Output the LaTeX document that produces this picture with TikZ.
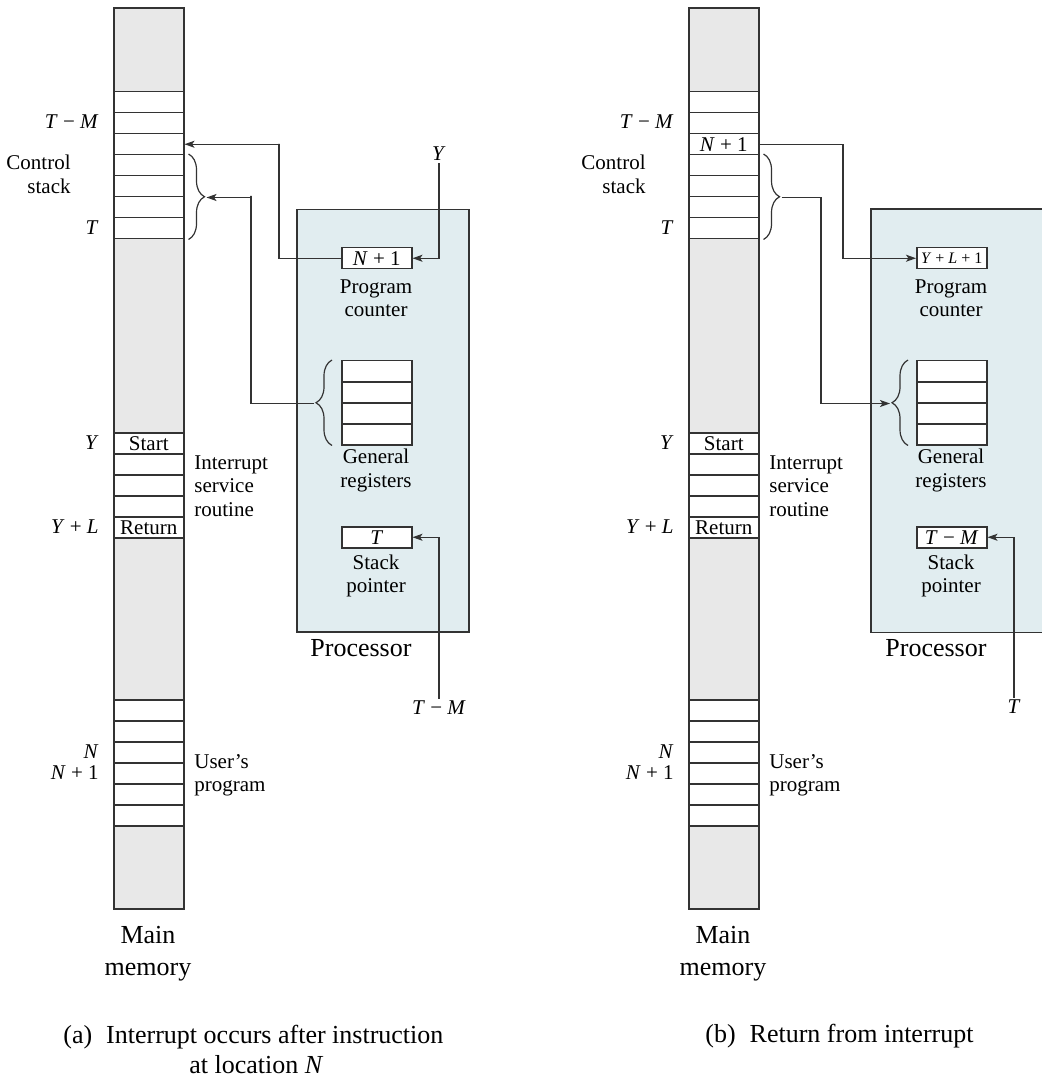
\documentclass[tikz,border=0pt]{standalone}
\usepackage{fontspec}
\setmainfont{Liberation Serif}
\usetikzlibrary{arrows.meta,decorations.pathreplacing}
\definecolor{lc}{RGB}{51,51,51}
\definecolor{memgray}{RGB}{232,232,232}
\definecolor{procblue}{RGB}{225,237,240}
\newcommand\lblfont{\fontsize{10.5pt}{11.7pt}\selectfont}
\newcommand\bigfont{\fontsize{13pt}{16pt}\selectfont}
\newcommand\smallfont{\fontsize{8pt}{9pt}\selectfont}
\newcommand\vv[1]{\textit{#1}}
\begin{document}
\begin{tikzpicture}[x=0.5pt,y=-0.5pt,
  mem/.style={draw=lc, fill=memgray, line width=0.9pt, minimum width=35pt, minimum height=450.5pt, inner sep=0pt, anchor=north west},
  cell/.style={draw=lc, fill=white, line width=0.75pt, minimum width=35pt, minimum height=10.5pt, inner sep=0pt, anchor=north west, font=\lblfont},
  proc/.style={fill=procblue, draw=lc, line width=0.75pt, minimum width=86pt, minimum height=211pt, inner sep=0pt, anchor=north west},
  lbl/.style={font=\lblfont, inner sep=1pt},
  big/.style={font=\bigfont, align=center, inner sep=0pt},
  arr/.style={draw=lc, line width=0.6pt, -{Stealth[length=5pt,width=3.5pt,inset=1.2pt]}},
  conn/.style={draw=lc, line width=0.6pt},
  brc/.style={draw=lc, line width=0.6pt, decorate, decoration={brace, amplitude=8pt}},
]
\useasboundingbox (0,0) rectangle (1041,1079);

% ================= (a) =================
\node[proc] (procA) at (296,209) {};
\node[mem] (memA) at (113,7) {};
\foreach \i in {1,...,7} \node[cell] (csA\i) at (113,{91+21*(\i-1)}) {};
\foreach \i/\t in {1/Start,2/{},3/{},4/{},5/Return} \node[cell] (isA\i) at (113,{432+21*(\i-1)}) {\t};
\foreach \i in {1,...,6} \node[cell] (upA\i) at (113,{699+21*(\i-1)}) {};

\node[lbl, anchor=east] (tmlA) at (101,122) {\vv{T} − \vv{M}};
\node[lbl, anchor=east, align=right] (ctlA) at (73,174.5) {Control\\stack};
\node[lbl, anchor=east] (tlA) at (101,227.5) {\vv{T}};
\node[lbl, anchor=east] (ylA) at (101,443) {\vv{Y}};
\node[lbl, anchor=east] (yllA) at (101,527) {\vv{Y} + \vv{L}};
\node[lbl, anchor=east] (nlA) at (101,752) {\vv{N}};
\node[lbl, anchor=east] (n1lA) at (101,773) {\vv{N} + 1};
\node[lbl, anchor=west, align=left] (isrA) at (192,486) {Interrupt\\service\\routine};
\node[lbl, anchor=west, align=left] (uprA) at (192,775) {User’s\\program};
\node[big] (mmA) at (148,954) {Main\\memory};

\node[cell] (pcA) at (341,247) {\vv{N} + 1};
\node[lbl, align=center] (pclA) at (376,298.5) {Program\\counter};
\foreach \i in {1,...,4} \node[cell] (rgA\i) at (341,{360+21*(\i-1)}) {};
\node[lbl, align=center] (grlA) at (376,470.5) {General\\registers};
\node[cell] (spA) at (341,526) {\vv{T}};
\node[lbl, align=center] (splA) at (376,576) {Stack\\pointer};
\node[big, anchor=west] (prlA) at (310,648) {Processor};

\node[lbl] (yA) at (439,154) {\vv{Y}};
\node[lbl] (tmA) at (439,708) {\vv{T} − \vv{M}};

\draw[brc] ([xshift=2pt]csA4.north east) -- ([xshift=2pt]csA7.south east);
\draw[brc] ([xshift=-4.5pt]rgA4.south west) -- ([xshift=-4.5pt]rgA1.north west);
\coordinate (sbA) at ([xshift=11pt]csA5.south east);
\coordinate (rbA) at ([xshift=-13.5pt]rgA2.south west);
\coordinate (tA1) at (279,144);
\coordinate (tA2) at (251,196);

\draw[arr] (pcA.west) -| (tA1) |- (csA3.east);
\draw[arr] (rbA) -| (tA2) |- (sbA);
\draw[arr] (yA.south) |- (pcA.east);
\draw[arr] (tmA.north) |- (spA.east);

\node[anchor=north west, inner sep=0pt, font=\bigfont] (capA) at (63,1021)
  {\begin{tabular}{@{}l@{\hspace{7pt}}l@{}}(a)&Interrupt occurs after instruction\\[-1pt]
   &\hspace{41.5pt}at location \vv{N}\end{tabular}};

% ================= (b) =================
\node[proc, draw=none, minimum width=85pt] (procB) at (871,209) {};
\draw[lc, line width=0.75pt] (procB.north east) -- (procB.north west) -- (procB.south west) -- (procB.south east);
\node[mem] (memB) at (688,7) {};
\foreach \i/\t in {1/{},2/{},3/{\vv{N} + 1},4/{},5/{},6/{},7/{}} \node[cell] (csB\i) at (688,{91+21*(\i-1)}) {\t};
\foreach \i/\t in {1/Start,2/{},3/{},4/{},5/Return} \node[cell] (isB\i) at (688,{432+21*(\i-1)}) {\t};
\foreach \i in {1,...,6} \node[cell] (upB\i) at (688,{699+21*(\i-1)}) {};

\node[lbl, anchor=east] (tmlB) at (676,122) {\vv{T} − \vv{M}};
\node[lbl, anchor=east, align=right] (ctlB) at (648,174.5) {Control\\stack};
\node[lbl, anchor=east] (tlB) at (676,227.5) {\vv{T}};
\node[lbl, anchor=east] (ylB) at (676,443) {\vv{Y}};
\node[lbl, anchor=east] (yllB) at (676,527) {\vv{Y} + \vv{L}};
\node[lbl, anchor=east] (nlB) at (676,752) {\vv{N}};
\node[lbl, anchor=east] (n1lB) at (676,773) {\vv{N} + 1};
\node[lbl, anchor=west, align=left] (isrB) at (767,486) {Interrupt\\service\\routine};
\node[lbl, anchor=west, align=left] (uprB) at (767,775) {User’s\\program};
\node[big] (mmB) at (723,954) {Main\\memory};

\node[cell, font=\smallfont] (pcB) at (916,247) {\vv{Y} + \vv{L} + 1};
\node[lbl, align=center] (pclB) at (951,298.5) {Program\\counter};
\foreach \i in {1,...,4} \node[cell] (rgB\i) at (916,{360+21*(\i-1)}) {};
\node[lbl, align=center] (grlB) at (951,470.5) {General\\registers};
\node[cell] (spB) at (916,526) {\vv{T} − \vv{M}};
\node[lbl, align=center] (splB) at (951,576) {Stack\\pointer};
\node[big, anchor=west] (prlB) at (885,648) {Processor};

\node[lbl] (tB) at (1014,707) {\vv{T}};

\draw[brc] ([xshift=2pt]csB4.north east) -- ([xshift=2pt]csB7.south east);
\draw[brc] ([xshift=-4pt]rgB4.south west) -- ([xshift=-4pt]rgB1.north west);
\coordinate (sbB) at ([xshift=11pt]csB5.south east);
\coordinate (rbB) at ([xshift=-13pt]rgB2.south west);
\coordinate (tB1) at (843,200);
\coordinate (tB2) at (821,402);

\draw[arr] (csB3.east) -| (tB1) |- (pcB.west);
\draw[arr] (sbB) -| (tB2) |- (rbB);
\draw[arr] (tB.north) |- (spB.east);

\node[anchor=west, inner sep=0pt, font=\bigfont] (capB) at (705,1036)
  {(b)\hspace{7pt}Return from interrupt};
\end{tikzpicture}
\end{document}
